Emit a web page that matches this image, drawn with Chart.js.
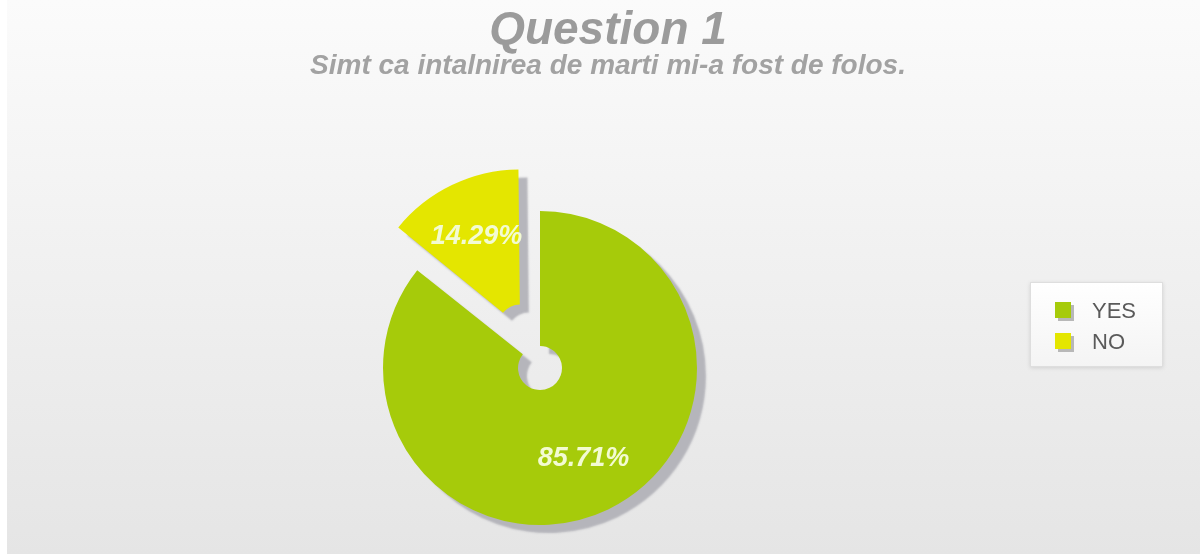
<!DOCTYPE html>
<html>
<head>
<meta charset="utf-8">
<title>Question 1</title>
<script src="https://cdn.jsdelivr.net/npm/chart.js@4/dist/chart.umd.min.js"></script>
<style>
    html, body { margin: 0; padding: 0; background: #fff; }
    #wrap { width: 1200px; height: 554px; }
</style>
</head>
<body>
<div id="wrap"><canvas id="pieChart" width="1200" height="554"></canvas></div>
<script>
const categories = ['YES', 'NO'];
const percentValues = [85.71, 14.29];
const sliceColors = ['#a6cb0a', '#e4e600'];

const titleText = 'Question 1';
const subtitleText = 'Simt ca intalnirea de marti mi-a fost de folos.';

// how far (px) each slice is pulled out of the pie
const pullOut = [0, 46];

// grey page background, white strip on the far left
const pageBackground = {
    id: 'pageBackground',
    beforeDraw(chart) {
        const ctx = chart.ctx;
        ctx.save();
        ctx.fillStyle = '#ffffff';
        ctx.fillRect(0, 0, chart.width, chart.height);
        const grad = ctx.createLinearGradient(0, 0, 0, chart.height);
        grad.addColorStop(0, '#fbfbfb');
        grad.addColorStop(1, '#e5e5e5');
        ctx.fillStyle = grad;
        ctx.fillRect(7, 0, chart.width - 7, chart.height);
        ctx.restore();
    }
};

// titles should be centred on the page, not on the padded pie area
const pageTitles = {
    id: 'pageTitles',
    afterLayout(chart) {
        chart.boxes.forEach(box => {
            if (box.options && typeof box.options.text === 'string') {
                box.left = 16;
                box.right = chart.width;
                box.width = box.right - box.left;
            }
        });
    }
};

// drop shadow under the slices + percentage labels on top
const sliceExtras = {
    id: 'sliceExtras',
    beforeDatasetsDraw(chart) {
        const meta = chart.getDatasetMeta(0);
        const ctrl = meta.controller;
        // v4 arcs move by offset/4 and also grow by that amount * (1 - sin(circ)); undo the growth
        meta.data.forEach(arc => {
            const move = (arc.options.offset || 0) / 4;
            const grow = move * (1 - Math.sin(Math.min(Math.PI, arc.circumference)));
            arc.outerRadius = ctrl.outerRadius - grow;
            arc.innerRadius = Math.max(ctrl.innerRadius - grow, 0);
        });
        const ctx = chart.ctx;
        ctx.save();
        ctx.shadowColor = 'rgba(178,178,184,0.95)';
        ctx.shadowOffsetX = 9;
        ctx.shadowOffsetY = 8;
        ctx.shadowBlur = 2;
    },
    afterDatasetsDraw(chart) {
        const ctx = chart.ctx;
        ctx.restore();
        const meta = chart.getDatasetMeta(0);
        const ctrl = meta.controller;
        ctx.save();
        ctx.font = 'italic bold 27px "Liberation Sans", Arial, sans-serif';
        ctx.fillStyle = '#f3fbd2';
        ctx.textAlign = 'center';
        ctx.textBaseline = 'middle';
        meta.data.forEach((arc, i) => {
            const mid = (arc.startAngle + arc.endAngle) / 2;
            const r = pullOut[i] + ctrl.innerRadius + (ctrl.outerRadius - ctrl.innerRadius) * 0.58;
            ctx.fillText(percentValues[i].toFixed(2) + '%', arc.x + Math.cos(mid) * r, arc.y + Math.sin(mid) * r);
        });
        ctx.restore();
    }
};

// boxed legend on the right
const boxLegend = {
    id: 'boxLegend',
    afterDraw(chart) {
        const ctx = chart.ctx;
        const bx = 1030, by = 282, bw = 133, bh = 85;
        ctx.save();
        ctx.shadowColor = 'rgba(0,0,0,0.12)';
        ctx.shadowBlur = 4;
        ctx.shadowOffsetY = 1;
        const grad = ctx.createLinearGradient(0, by, 0, by + bh);
        grad.addColorStop(0, '#ffffff');
        grad.addColorStop(1, '#f4f4f4');
        ctx.fillStyle = grad;
        ctx.fillRect(bx, by, bw, bh);
        ctx.shadowColor = 'transparent';
        ctx.strokeStyle = '#dedede';
        ctx.lineWidth = 1;
        ctx.strokeRect(bx + 0.5, by + 0.5, bw - 1, bh - 1);

        ctx.font = '22px "Liberation Sans", Arial, sans-serif';
        ctx.textBaseline = 'middle';
        categories.forEach((label, i) => {
            const cy = 311 + i * 31;
            ctx.fillStyle = '#b8b8b8';
            ctx.fillRect(1058, cy - 6, 16, 16);
            ctx.fillStyle = sliceColors[i];
            ctx.fillRect(1055, cy - 9, 16, 16);
            ctx.fillStyle = '#5a5a5a';
            ctx.fillText(label, 1092, cy + 1);
        });
        ctx.restore();
    }
};

const ctx = document.getElementById('pieChart').getContext('2d');
const pieChart = new Chart(ctx, {
    type: 'doughnut',
    data: {
        labels: categories,
        datasets: [{
            data: percentValues,
            backgroundColor: sliceColors,
            borderWidth: 0,
            offset: pullOut.map(d => d * 4),
            hoverOffset: 0
        }]
    },
    options: {
        responsive: false,
        animation: false,
        devicePixelRatio: 1,
        events: [],
        cutout: '14%',
        radius: 157,
        layout: {
            padding: { left: 60, right: 180, top: 0, bottom: 6 }
        },
        plugins: {
            legend: { display: false },
            tooltip: { enabled: false },
            title: {
                display: true,
                text: titleText,
                color: '#9b9b9b',
                font: { family: '"Liberation Sans", Arial, sans-serif', size: 46, weight: 'bold', style: 'italic', lineHeight: 1.0 },
                padding: { top: 8, bottom: 0 }
            },
            subtitle: {
                display: true,
                text: subtitleText,
                color: '#a2a2a2',
                font: { family: '"Liberation Sans", Arial, sans-serif', size: 28, weight: 'bold', style: 'italic', lineHeight: 1.0 },
                padding: { top: -2, bottom: 108 }
            }
        }
    },
    plugins: [pageBackground, pageTitles, sliceExtras, boxLegend]
});
</script>
</body>
</html>
